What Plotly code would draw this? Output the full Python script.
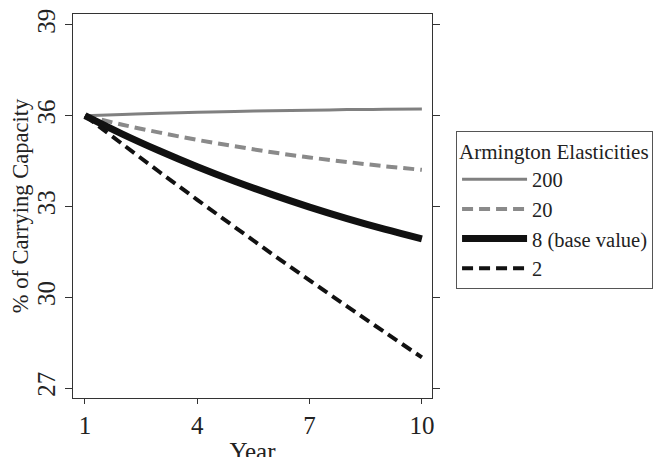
import plotly.graph_objects as go

years = [1, 2, 3, 4, 5, 6, 7, 8, 9, 10]
e200 = [36.0, 36.04, 36.08, 36.11, 36.14, 36.16, 36.18, 36.2, 36.21, 36.22]
e20 = [36.0, 35.7, 35.44, 35.2, 34.99, 34.79, 34.62, 34.47, 34.33, 34.21]
e8 = [36.0, 35.39, 34.83, 34.31, 33.83, 33.39, 32.98, 32.6, 32.25, 31.93]
e2 = [36.0, 35.06, 34.13, 33.22, 32.32, 31.43, 30.56, 29.7, 28.85, 28.01]
labels = ["200", "20", "8 (base value)", "2"]

FONT = "Liberation Serif"
fig = go.Figure()
fig.add_trace(go.Scatter(x=years, y=e200, mode="lines", name=labels[0],
                         line=dict(color="#808080", width=3, shape="spline")))
fig.add_trace(go.Scatter(x=years, y=e20, mode="lines", name=labels[1],
                         line=dict(color="#8a8a8a", width=4, dash="11px,6px", shape="spline")))
fig.add_trace(go.Scatter(x=years, y=e8, mode="lines", name=labels[2],
                         line=dict(color="#111111", width=7, shape="spline")))
fig.add_trace(go.Scatter(x=years, y=e2, mode="lines", name=labels[3],
                         line=dict(color="#111111", width=4, dash="11px,6px", shape="spline")))

fig.update_layout(
    width=657, height=457,
    margin=dict(l=65, r=233, t=6, b=67, autoexpand=False),
    paper_bgcolor="white", plot_bgcolor="white",
    font=dict(family=FONT, color="#222222", size=20),
    legend=dict(
        x=1.067, y=0.695, xanchor="left", yanchor="top",
        bordercolor="#555555", borderwidth=1, bgcolor="white",
        font=dict(family=FONT, size=20.5, color="#222222"),
        title=dict(text="Armington Elasticities", font=dict(family=FONT, size=21)),
        itemwidth=65, tracegroupgap=0,
    ),
    xaxis=dict(
        range=[0.68, 10.27], tickvals=[1, 4, 7, 10], ticks="outside", ticklen=5,
        tickcolor="#333333", showline=True, linecolor="#333333", linewidth=1.3,
        mirror=True, showgrid=False, zeroline=False, automargin=False,
        tickfont=dict(size=25),
        title=dict(text="Year", font=dict(size=25), standoff=11),
    ),
    yaxis=dict(
        range=[26.67, 39.36], tickvals=[27, 30, 33, 36, 39], ticks="outside", ticklen=7,
        tickcolor="#333333", showline=True, linecolor="#333333", linewidth=1.3,
        mirror="ticks", showgrid=False, zeroline=False, tickangle=-90, automargin=False,
        tickfont=dict(size=25),
        title=dict(text="% of Carrying Capacity", font=dict(size=22.5), standoff=6),
    ),
)
fig.write_html("out.html")
